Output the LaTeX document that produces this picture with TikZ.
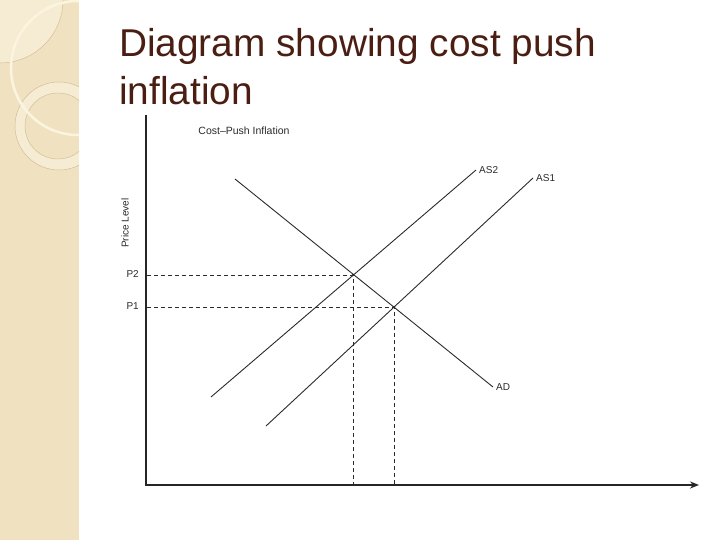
\documentclass[tikz,border=0pt]{standalone}
\usepackage{fontspec}
\setmainfont{Liberation Sans}
\usetikzlibrary{arrows.meta}

\definecolor{stripbg}{HTML}{F0E2C0}
\definecolor{striplight}{HTML}{F6ECD4}
\definecolor{ringline}{HTML}{D3BF96}
\definecolor{arcwhite}{HTML}{FBF4E0}
\definecolor{titlebrown}{HTML}{4A1E12}
\definecolor{inkgray}{HTML}{2A2A2A}

\tikzset{
  lbl/.style={inner sep=1pt, text=inkgray, font=\fontsize{10}{12}\selectfont},
  curve/.style={draw=inkgray, line width=0.9pt},
  guide/.style={draw=inkgray, line width=0.8pt, dash pattern=on 4pt off 3pt},
  axis/.style={draw=black!85, line width=1.6pt}
}

\begin{document}
\begin{tikzpicture}[x=1pt,y=-1pt]
      \useasboundingbox (0,0) rectangle (720,540);
      % left strip
      \fill[stripbg] (0,0) rectangle (79,540);
      \begin{scope}
        \clip (0,0) rectangle (79,540);
        \fill[striplight, draw=ringline, line width=0.5pt] (0,0) circle (63pt);
        \fill[striplight, even odd rule] (59,126) circle (44pt) (58,126) circle (33pt);
        \draw[ringline, line width=0.5pt] (59,126) circle (44pt);
        \draw[ringline, line width=0.5pt] (58,126) circle (33pt);
        \draw[arcwhite, line width=2.5pt] (78,68) circle (67pt);
      \end{scope}
      % title
      \begin{scope}[every node/.style={anchor=base west, inner sep=0pt, text=titlebrown, font=\fontsize{38.8}{40}\selectfont}]
        \node (title1) at (119,57) {Diagram showing cost push};
        \node (title2) at (119,105) {inflation};
      \end{scope}
      % chart
      \coordinate (O) at (146,485);
      \coordinate (ytop) at (146,115);
      \coordinate (xend) at (699,485);
      \coordinate (E2) at (353,275);
      \coordinate (E1) at (394,307);
      \coordinate (Y2) at (147,275);
      \coordinate (Y1) at (147,307);
      \coordinate (ADa) at (235,179);
      \coordinate (AS2a) at (211,397);
      \coordinate (AS1a) at (266,426);
      \begin{scope}[every node/.style=lbl]
        \node[font=\fontsize{10.5}{12}\selectfont] (head) at (244,131) {Cost–Push Inflation};
        \node[rotate=90] (ylab) at (125,223) {Price Level};
        \node[anchor=east] (P2) at (140,274) {P2};
        \node[anchor=east] (P1) at (140,306) {P1};
        \node[anchor=west, inner sep=3pt] (AD) at (493,387) {AD};
        \node[anchor=west, inner sep=3pt] (AS2) at (476,170) {AS2};
        \node[anchor=west, inner sep=3pt] (AS1) at (533,178) {AS1};
      \end{scope}
      \path[guide] (Y2) -- (E2) -- (E2 |- O);
      \path[guide] (Y1) -- (E1) -- (E1 |- O);
      \path[curve] (ADa) -- (AD.west);
      \path[curve] (AS2a) -- (AS2.west);
      \path[curve] (AS1a) -- (AS1.west);
      \fill[inkgray] (E2) circle (1.3pt) (E1) circle (1.3pt);
      \draw[axis, -{Stealth[length=9pt, width=7pt]}] (ytop) -- (O) -- (xend);
    \end{tikzpicture}
\end{document}
